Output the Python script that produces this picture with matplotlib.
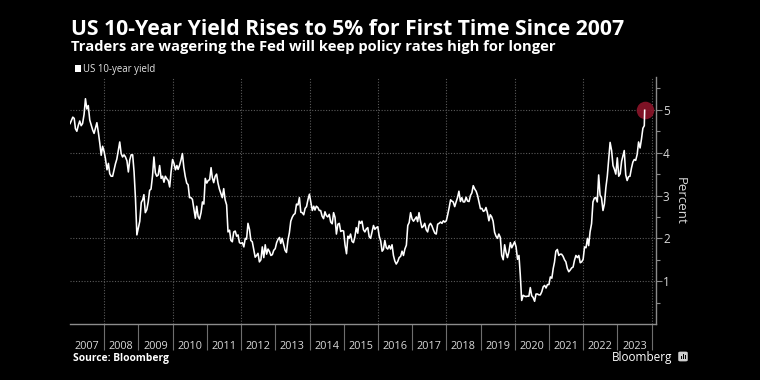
import matplotlib
matplotlib.use("Agg")
import matplotlib.pyplot as plt
import matplotlib.dates as mdates
from matplotlib.patches import FancyBboxPatch, Rectangle
from matplotlib.ticker import FixedLocator, NullFormatter
import pandas as pd

# ---------------- data (US 10-year Treasury yield, %, approx. semi-monthly) ----------------
first_date, first_value = "2007-01-02", 4.68
last_date, last_value = "2023-10-19", 4.99

y2007 = [4.75, 4.83, 4.80, 4.56, 4.50, 4.64, 4.74, 4.63, 4.68, 4.89, 5.26, 5.02,
         5.10, 4.76, 4.65, 4.53, 4.45, 4.58, 4.70, 4.47, 4.22, 3.94, 4.15, 4.03]
y2008 = [3.85, 3.60, 3.75, 3.51, 3.45, 3.45, 3.60, 3.74, 3.85, 4.06, 4.25, 3.98,
         3.90, 3.95, 3.90, 3.81, 3.55, 3.83, 3.95, 3.95, 3.55, 2.93, 2.08, 2.25]
y2009 = [2.40, 2.84, 2.90, 3.02, 2.60, 2.67, 2.85, 3.12, 3.15, 3.46, 3.90, 3.53,
         3.45, 3.48, 3.70, 3.40, 3.45, 3.31, 3.45, 3.39, 3.35, 3.20, 3.55, 3.84]
y2010 = [3.75, 3.60, 3.70, 3.61, 3.70, 3.83, 3.98, 3.66, 3.45, 3.29, 3.25, 2.95,
         2.95, 2.91, 2.70, 2.47, 2.75, 2.51, 2.45, 2.60, 2.85, 2.80, 3.40, 3.29]
y2011 = [3.35, 3.37, 3.65, 3.42, 3.30, 3.45, 3.50, 3.29, 3.15, 3.05, 2.95, 3.16,
         2.90, 2.78, 2.15, 2.19, 1.95, 1.92, 2.15, 2.17, 2.05, 2.08, 1.90, 1.88]
y2012 = [1.90, 1.80, 2.00, 1.98, 2.35, 2.21, 1.95, 1.92, 1.75, 1.56, 1.60, 1.65,
         1.45, 1.50, 1.80, 1.55, 1.85, 1.63, 1.75, 1.69, 1.60, 1.62, 1.72, 1.76]
y2013 = [1.90, 1.98, 2.02, 1.88, 2.00, 1.85, 1.72, 1.67, 1.95, 2.13, 2.40, 2.49,
         2.55, 2.58, 2.80, 2.78, 2.95, 2.61, 2.60, 2.55, 2.70, 2.74, 2.90, 3.03]
y2014 = [2.85, 2.65, 2.75, 2.66, 2.75, 2.72, 2.65, 2.65, 2.52, 2.46, 2.62, 2.53,
         2.50, 2.56, 2.38, 2.34, 2.60, 2.49, 2.10, 2.33, 2.35, 2.16, 2.18, 2.17]
y2015 = [1.85, 1.64, 2.05, 2.00, 2.10, 1.93, 1.90, 2.03, 2.25, 2.12, 2.40, 2.35,
         2.40, 2.20, 2.15, 2.22, 2.25, 2.04, 2.00, 2.16, 2.30, 2.21, 2.25, 2.27]
y2016 = [2.05, 1.94, 1.70, 1.74, 1.95, 1.78, 1.75, 1.83, 1.75, 1.85, 1.60, 1.47,
         1.40, 1.46, 1.55, 1.58, 1.70, 1.60, 1.75, 1.84, 2.30, 2.37, 2.60, 2.45]
y2017 = [2.40, 2.45, 2.50, 2.39, 2.60, 2.40, 2.25, 2.28, 2.35, 2.20, 2.15, 2.30,
         2.35, 2.29, 2.20, 2.12, 2.10, 2.33, 2.35, 2.38, 2.35, 2.41, 2.38, 2.41]
y2018 = [2.55, 2.72, 2.90, 2.87, 2.85, 2.74, 2.85, 2.95, 3.10, 2.86, 2.95, 2.85,
         2.85, 2.96, 2.87, 2.86, 3.00, 3.06, 3.23, 3.15, 3.10, 3.00, 2.85, 2.69]
y2019 = [2.70, 2.63, 2.65, 2.72, 2.60, 2.41, 2.55, 2.50, 2.40, 2.14, 2.05, 2.00,
         2.10, 2.02, 1.60, 1.50, 1.85, 1.67, 1.55, 1.69, 1.90, 1.78, 1.85, 1.92]
y2020 = [1.80, 1.51, 1.60, 1.15, 0.55, 0.67, 0.65, 0.64, 0.65, 0.65, 0.85, 0.66,
         0.62, 0.53, 0.70, 0.70, 0.68, 0.68, 0.75, 0.87, 0.90, 0.84, 0.92, 0.92]
y2021 = [1.10, 1.07, 1.30, 1.44, 1.70, 1.74, 1.60, 1.63, 1.63, 1.58, 1.50, 1.45,
         1.30, 1.22, 1.26, 1.31, 1.33, 1.49, 1.60, 1.55, 1.60, 1.43, 1.45, 1.51]
y2022 = [1.80, 1.78, 2.00, 1.83, 2.15, 2.34, 2.85, 2.94, 2.95, 2.85, 3.48, 3.01,
         2.95, 2.65, 2.80, 3.19, 3.45, 3.83, 4.24, 4.05, 3.70, 3.61, 3.50, 3.88]
y2023 = [3.45, 3.51, 3.80, 3.92, 4.05, 3.48, 3.35, 3.44, 3.45, 3.64, 3.78, 3.84,
         3.82, 3.96, 4.25, 4.11, 4.32, 4.57, 4.63]

years = list(range(2007, 2024))
series_by_year = [y2007, y2008, y2009, y2010, y2011, y2012, y2013, y2014, y2015,
                  y2016, y2017, y2018, y2019, y2020, y2021, y2022, y2023]
year_labels = [str(y) for y in years]
yticks = [1, 2, 3, 4, 5]

title = "US 10-Year Yield Rises to 5% for First Time Since 2007"
subtitle = "Traders are wagering the Fed will keep policy rates high for longer"
legend_label = "US 10-year yield"
ylabel = "Percent"
source = "Source: Bloomberg"

# ---------------- build series ----------------
def semimonthly(year, n):
    out = []
    for i in range(n):
        m = i // 2 + 1
        if i % 2 == 0:
            out.append(pd.Timestamp(year, m, 15))
        else:
            out.append(pd.Timestamp(year, m, 1) + pd.offsets.MonthEnd(0))
    return out

dates = [pd.Timestamp(first_date)]
values = [first_value]
for yr, vals in zip(years, series_by_year):
    dates += semimonthly(yr, len(vals))
    values += vals
dates.append(pd.Timestamp(last_date))
values.append(last_value)

# ---------------- figure ----------------
W, H = 760, 380
FONT = ["Open Sans", "DejaVu Sans"]
plt.rcParams["font.family"] = FONT
fig = plt.figure(figsize=(W / 100, H / 100), dpi=100, facecolor="black")

ax_left, ax_right, ax_bottom, ax_top = 70, 656, 324, 77.3
ax = fig.add_axes([ax_left / W, (H - ax_bottom) / H,
                   (ax_right - ax_left) / W, (ax_bottom - ax_top) / H])
ax.set_facecolor("black")

xnum = mdates.date2num(dates)
ax.plot(xnum, values, color="white", lw=1.15, zorder=3, solid_joinstyle="round")
ax.scatter([xnum[-1]], [values[-1]], s=160, color="#8a1429", alpha=0.92,
           zorder=2, linewidths=0)

ax.set_xlim(mdates.date2num(pd.Timestamp("2007-01-01")),
            mdates.date2num(pd.Timestamp("2024-02-17")))
ax.set_ylim(0, 5.76)

# spines
for s in ["left", "top"]:
    ax.spines[s].set_visible(False)
for s in ["bottom", "right"]:
    ax.spines[s].set_color("#8c8c8c")
    ax.spines[s].set_linewidth(1.0)

# y axis on the right
ax.yaxis.tick_right()
ax.set_yticks(yticks)
ax.set_yticklabels([str(t) for t in yticks])
ax.yaxis.set_minor_locator(FixedLocator([0.5 + i for i in range(6)]))
ax.tick_params(axis="y", which="major", length=4, width=0.8, color="#8c8c8c",
               labelcolor="#d9d9d9", labelsize=8.5, pad=1)
ax.tick_params(axis="y", which="minor", length=3, width=0.8, color="#8c8c8c")
ax.yaxis.set_label_position("right")
ax.set_ylabel(ylabel, color="#d9d9d9", fontsize=9.5, rotation=-90, labelpad=12)

# x axis: boundaries as major ticks, labels centred in each year
bounds = [mdates.date2num(pd.Timestamp(y, 1, 1)) for y in range(2008, 2025)]
mids = [mdates.date2num(pd.Timestamp(y, 7, 2)) for y in years]
ax.xaxis.set_major_locator(FixedLocator(bounds))
ax.xaxis.set_major_formatter(NullFormatter())
ax.xaxis.set_minor_locator(FixedLocator(mids))
ax.set_xticklabels(year_labels, minor=True)
ax.tick_params(axis="x", which="major", length=19, width=0.8, color="#6e6e6e",
               direction="out")
ax.tick_params(axis="x", which="minor", length=0, pad=12, labelsize=7.8,
               labelcolor="#d9d9d9")

# grid
for yv in yticks:
    ax.axhline(yv, color="#5a5a5a", lw=0.8, ls=(0, (1, 1.5)), zorder=1)
for y in range(2008, 2025, 2):
    ax.axvline(mdates.date2num(pd.Timestamp(y, 1, 1)), color="#5a5a5a", lw=0.8,
               ls=(0, (1, 1.5)), zorder=1)

# ---------------- texts ----------------
renderer = fig.canvas.get_renderer()

def fit_text(s, x0, x1, baseline, size, color="white", **kw):
    t = fig.text(x0 / W, 1 - baseline / H, s, fontsize=size, va="baseline",
                 ha="left", color=color, **kw)
    w = t.get_window_extent(renderer).width
    t.set_fontsize(size * (x1 - x0) / w)
    return t

fit_text(title, 71, 627, 35, 14, fontweight="bold")
fit_text(subtitle, 71, 558, 51.5, 10, fontweight="bold")
fit_text(legend_label, 83, 155, 72, 7, color="#e6e6e6")
fig.patches.append(Rectangle((75 / W, 1 - 71.5 / H), 5.5 / W, 6.5 / H,
                             transform=fig.transFigure, facecolor="white",
                             edgecolor="none"))
fit_text(source, 73, 168, 361.5, 7, fontweight="bold")
fit_text("Bloomberg", 612, 673, 360.5, 9)

# small Bloomberg icon
fig.patches.append(FancyBboxPatch((679 / W, 1 - 361 / H), 8 / W, 9 / H,
                                  boxstyle="round,pad=0.001,rounding_size=0.003",
                                  transform=fig.transFigure, facecolor="#cfcfcf",
                                  edgecolor="none"))
for bx, bh in [(681, 3), (683, 5.5), (685, 4)]:
    fig.patches.append(Rectangle((bx / W, 1 - 359 / H), 1 / W, bh / H,
                                 transform=fig.transFigure, facecolor="black",
                                 edgecolor="none"))

fig.savefig("out.png", dpi=100, facecolor="black")
